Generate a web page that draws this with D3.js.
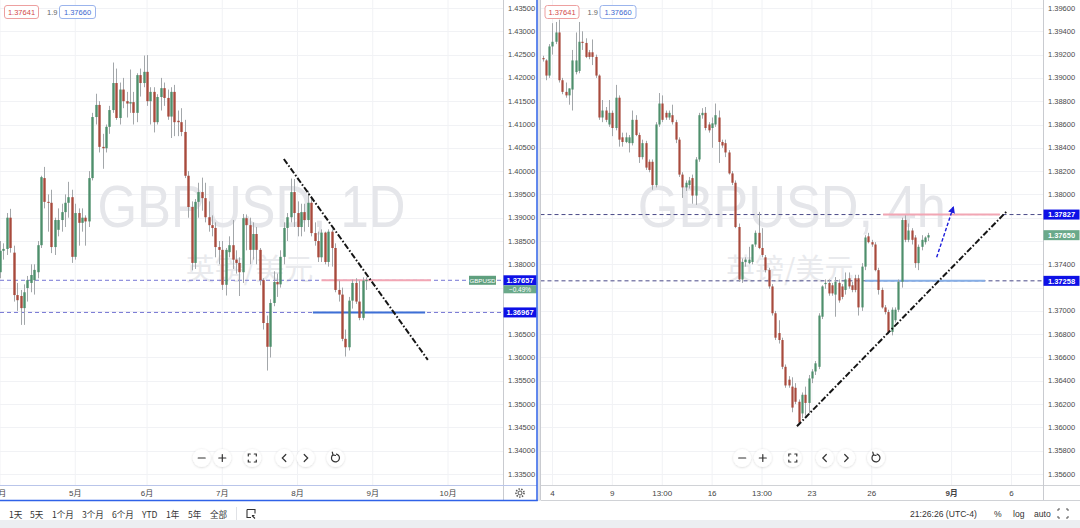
<!DOCTYPE html>
<html><head><meta charset="utf-8">
<script src="https://cdn.jsdelivr.net/npm/d3@7/dist/d3.min.js"></script>
<style>
html,body{margin:0;padding:0;background:#fff;overflow:hidden}
svg{display:block}
text{font-family:"Liberation Sans",Arial,"Noto Sans CJK SC",sans-serif}
</style></head><body>
<svg id="chart" width="1080" height="528"></svg>
<script>
// ---------- DATA ----------
// Daily GBPUSD candles [open, high, low, close], index 0 = 1 Apr
const dailyCandles = [
[1.3783,1.3850,1.3770,1.3829],[1.3829,1.3845,1.3810,1.3833],[1.3833,1.3910,1.3820,1.3900],[1.3900,1.3919,1.3825,1.3835],
[1.3825,1.3840,1.3720,1.3734],[1.3734,1.3760,1.3700,1.3723],[1.3732,1.3745,1.3670,1.3706],[1.3706,1.3757,1.3670,1.3740],
[1.3749,1.3775,1.3720,1.3766],[1.3760,1.3800,1.3740,1.3777],[1.3766,1.3800,1.3735,1.3788],[1.3783,1.3850,1.3770,1.3841],
[1.3841,1.3990,1.3835,1.3987],[1.3985,1.4009,1.3920,1.3934],[1.3934,1.3950,1.3870,1.3932],[1.3932,1.3960,1.3824,1.3837],
[1.3837,1.3900,1.3820,1.3895],[1.3874,1.3920,1.3860,1.3895],[1.3895,1.3930,1.3870,1.3912],[1.3912,1.3950,1.3880,1.3932],
[1.3932,1.3977,1.3900,1.3944],[1.3944,1.3960,1.3803,1.3816],[1.3816,1.3930,1.3810,1.3910],[1.3910,1.3920,1.3840,1.3889],
[1.3889,1.3920,1.3870,1.3900],[1.3900,1.3905,1.3840,1.3892],[1.3892,1.4000,1.3880,1.3985],[1.3985,1.4125,1.3980,1.4116],
[1.4116,1.4166,1.4100,1.4142],[1.4142,1.4150,1.4040,1.4052],[1.4052,1.4080,1.4005,1.4049],[1.4049,1.4100,1.4040,1.4095],
[1.4095,1.4140,1.4080,1.4131],[1.4131,1.4233,1.4125,1.4189],[1.4189,1.4220,1.4110,1.4114],[1.4114,1.4190,1.4100,1.4175],
[1.4175,1.4200,1.4135,1.4150],[1.4150,1.4170,1.4115,1.4145],[1.4145,1.4218,1.4125,1.4148],[1.4148,1.4170,1.4100,1.4125],
[1.4125,1.4210,1.4105,1.4206],[1.4206,1.4220,1.4160,1.4189],[1.4189,1.4248,1.4180,1.4213],[1.4213,1.4249,1.4140,1.4150],
[1.4150,1.4180,1.4100,1.4170],[1.4170,1.4180,1.4083,1.4105],[1.4105,1.4165,1.4100,1.4159],[1.4159,1.4200,1.4130,1.4178],
[1.4178,1.4190,1.4140,1.4157],[1.4157,1.4175,1.4110,1.4117],[1.4117,1.4180,1.4071,1.4170],[1.4170,1.4185,1.4075,1.4105],
[1.4108,1.4130,1.4075,1.4105],[1.4105,1.4135,1.4075,1.4084],[1.4084,1.4110,1.3985,1.3990],[1.3990,1.4000,1.3900,1.3923],
[1.3923,1.3935,1.3787,1.3803],[1.3803,1.3940,1.3790,1.3934],[1.3934,1.3975,1.3900,1.3955],[1.3955,1.3986,1.3915,1.3942],
[1.3942,1.3975,1.3890,1.3901],[1.3901,1.3935,1.3870,1.3884],[1.3884,1.3905,1.3860,1.3878],[1.3878,1.3890,1.3815,1.3837],
[1.3837,1.3850,1.3800,1.3831],[1.3831,1.3850,1.3745,1.3756],[1.3756,1.3835,1.3733,1.3831],[1.3826,1.3860,1.3815,1.3841],
[1.3841,1.3895,1.3790,1.3810],[1.3810,1.3830,1.3780,1.3803],[1.3803,1.3815,1.3732,1.3783],[1.3783,1.3908,1.3760,1.3899],
[1.3899,1.3907,1.3830,1.3884],[1.3884,1.3900,1.3800,1.3831],[1.3831,1.3890,1.3810,1.3865],[1.3865,1.3880,1.3800,1.3831],
[1.3831,1.3835,1.3755,1.3766],[1.3766,1.3770,1.3660,1.3674],[1.3674,1.3690,1.3572,1.3623],[1.3623,1.3725,1.3600,1.3717],
[1.3717,1.3785,1.3710,1.3762],[1.3762,1.3780,1.3730,1.3757],[1.3757,1.3830,1.3750,1.3816],[1.3816,1.3890,1.3800,1.3878],
[1.3878,1.3910,1.3850,1.3901],[1.3901,1.3984,1.3890,1.3955],[1.3955,1.3983,1.3880,1.3910],[1.3910,1.3935,1.3860,1.3880],
[1.3880,1.3930,1.3860,1.3912],[1.3912,1.3930,1.3870,1.3895],[1.3895,1.3958,1.3880,1.3932],[1.3932,1.3945,1.3860,1.3867],
[1.3867,1.3890,1.3840,1.3850],[1.3850,1.3870,1.3805,1.3815],[1.3815,1.3875,1.3805,1.3868],[1.3868,1.3870,1.3800,1.3805],
[1.3805,1.3875,1.3795,1.3870],[1.3870,1.3875,1.3795,1.3835],[1.3835,1.3845,1.3740,1.3745],[1.3745,1.3765,1.3720,1.3735],
[1.3735,1.3750,1.3635,1.3640],[1.3640,1.3660,1.3602,1.3622],[1.3622,1.3730,1.3615,1.3722],[1.3722,1.3767,1.3705,1.3760],
[1.3760,1.3770,1.3715,1.3720],[1.3720,1.3765,1.3680,1.3685],[1.3685,1.3772,1.3680,1.3765],[1.3765,1.3772,1.3745,1.3766]
];
// 4h GBPUSD candles [open, high, low, close]
const h4Candles = [
[1.3917,1.3919,1.3914,1.3916],[1.3915,1.3916,1.3898,1.3902],[1.3902,1.3929,1.3900,1.3927],[1.3927,1.3947,1.3920,1.3931],
[1.3931,1.3948,1.3929,1.3939],[1.3939,1.3950,1.3896,1.3898],[1.3898,1.3900,1.3886,1.3888],[1.3888,1.3896,1.3883,1.3885],
[1.3885,1.3891,1.3877,1.3891],[1.3890,1.3924,1.3872,1.3915],[1.3905,1.3939,1.3903,1.3915],[1.3906,1.3948,1.3904,1.3931],
[1.3931,1.3940,1.3924,1.3930],[1.3930,1.3934,1.3917,1.3918],[1.3922,1.3924,1.3916,1.3918],[1.3922,1.3933,1.3911,1.3918],
[1.3918,1.3920,1.3900,1.3902],[1.3902,1.3903,1.3864,1.3866],[1.3866,1.3881,1.3862,1.3872],[1.3872,1.3875,1.3862,1.3864],
[1.3860,1.3881,1.3858,1.3870],[1.3870,1.3872,1.3850,1.3857],[1.3857,1.3894,1.3855,1.3883],[1.3883,1.3885,1.3841,1.3847],
[1.3849,1.3853,1.3841,1.3845],[1.3845,1.3853,1.3844,1.3849],[1.3844,1.3851,1.3836,1.3849],[1.3844,1.3872,1.3842,1.3864],
[1.3864,1.3868,1.3850,1.3851],[1.3851,1.3853,1.3827,1.3832],[1.3832,1.3847,1.3830,1.3844],[1.3844,1.3846,1.3821,1.3823],
[1.3828,1.3830,1.3819,1.3821],[1.3828,1.3830,1.3804,1.3808],[1.3808,1.3862,1.3806,1.3860],[1.3860,1.3887,1.3858,1.3878],
[1.3878,1.3885,1.3862,1.3864],[1.3870,1.3872,1.3864,1.3866],[1.3866,1.3872,1.3864,1.3870],[1.3868,1.3877,1.3860,1.3862],
[1.3862,1.3864,1.3844,1.3847],[1.3847,1.3849,1.3815,1.3817],[1.3817,1.3819,1.3797,1.3806],[1.3806,1.3812,1.3803,1.3810],
[1.3808,1.3815,1.3805,1.3812],[1.3814,1.3817,1.3792,1.3799],[1.3799,1.3832,1.3791,1.3830],[1.3830,1.3870,1.3828,1.3868],
[1.3868,1.3874,1.3865,1.3870],[1.3870,1.3875,1.3855,1.3857],[1.3860,1.3862,1.3853,1.3855],[1.3857,1.3866,1.3840,1.3861],
[1.3860,1.3878,1.3858,1.3868],[1.3866,1.3872,1.3827,1.3845],[1.3845,1.3847,1.3840,1.3842],[1.3844,1.3847,1.3832,1.3836],
[1.3836,1.3838,1.3817,1.3818],[1.3818,1.3820,1.3808,1.3810],[1.3810,1.3812,1.3771,1.3772],[1.3772,1.3775,1.3725,1.3727],
[1.3727,1.3745,1.3724,1.3742],[1.3742,1.3746,1.3738,1.3744],[1.3741,1.3755,1.3740,1.3744],[1.3742,1.3757,1.3740,1.3757],
[1.3757,1.3769,1.3755,1.3767],[1.3767,1.3785,1.3753,1.3754],[1.3754,1.3771,1.3746,1.3748],[1.3746,1.3748,1.3733,1.3735],
[1.3735,1.3737,1.3719,1.3721],[1.3721,1.3723,1.3696,1.3698],[1.3698,1.3700,1.3675,1.3677],[1.3681,1.3692,1.3672,1.3675],
[1.3675,1.3677,1.3650,1.3652],[1.3652,1.3654,1.3634,1.3636],[1.3641,1.3644,1.3634,1.3636],[1.3635,1.3643,1.3613,1.3617],
[1.3634,1.3638,1.3620,1.3622],[1.3622,1.3624,1.3602,1.3604],[1.3612,1.3630,1.3608,1.3628],[1.3628,1.3635,1.3610,1.3621],
[1.3621,1.3645,1.3612,1.3642],[1.3642,1.3650,1.3638,1.3648],[1.3648,1.3657,1.3645,1.3655],[1.3652,1.3698,1.3650,1.3696],
[1.3695,1.3722,1.3693,1.3721],[1.3723,1.3727,1.3719,1.3724],[1.3724,1.3727,1.3713,1.3715],[1.3722,1.3724,1.3713,1.3715],
[1.3714,1.3729,1.3695,1.3725],[1.3724,1.3727,1.3707,1.3709],[1.3721,1.3723,1.3710,1.3712],[1.3718,1.3733,1.3714,1.3727],
[1.3728,1.3733,1.3719,1.3721],[1.3722,1.3725,1.3716,1.3718],[1.3728,1.3731,1.3716,1.3718],[1.3728,1.3731,1.3696,1.3703],
[1.3703,1.3741,1.3700,1.3738],[1.3738,1.3765,1.3735,1.3763],[1.3764,1.3767,1.3758,1.3759],[1.3759,1.3761,1.3755,1.3757],
[1.3757,1.3759,1.3734,1.3735],[1.3735,1.3737,1.3714,1.3718],[1.3718,1.3720,1.3702,1.3703],[1.3703,1.3705,1.3697,1.3699],
[1.3699,1.3701,1.3680,1.3682],[1.3682,1.3703,1.3679,1.3701],[1.3692,1.3703,1.3690,1.3701],[1.3701,1.3727,1.3699,1.3725],
[1.3725,1.3780,1.3720,1.3778],[1.3778,1.3782,1.3759,1.3761],[1.3761,1.3775,1.3759,1.3769],[1.3769,1.3771,1.3757,1.3761],
[1.3763,1.3765,1.3737,1.3741],[1.3741,1.3757,1.3735,1.3755],[1.3755,1.3765,1.3752,1.3761],[1.3759,1.3764,1.3757,1.3763],
[1.3763,1.3767,1.3760,1.3765]
];
const leftTimeIdx = [0,22,43,65,87,109,131];
const leftTimeLabels = ["4月","5月","6月","7月","8月","9月","10月"];
const rightTimeIdx = [3,21,36,51,66,81,99,123,141];
const rightTimeLabels = ["4","9","13:00","16","13:00","23","26","9月","6"];
const leftPriceTicks = [1.435,1.430,1.425,1.420,1.415,1.410,1.405,1.400,1.395,1.390,1.385,1.380,1.375,1.370,1.365,1.360,1.355,1.350,1.345,1.340,1.335];
const rightPriceTicks = [1.396,1.394,1.392,1.390,1.388,1.386,1.384,1.382,1.380,1.378,1.376,1.374,1.372,1.370,1.368,1.366,1.364,1.362,1.360,1.358,1.356];
const leftLevels = [1.37657, 1.36967];
const rightLevels = [1.37827, 1.37258];
const leftLastPrice = 1.37657, leftChange = "−0.49%";
const rightLastPrice = 1.37650;
// drawings: [index, price]
const leftTrend = [[83,1.4026],[125.1,1.3595]];
const rightTrend = [[76.5,1.3601],[139.4,1.3785]];
const rightArrow = [[118.5,1.3746],[123.5,1.3789]];
const leftPinkSeg = [94,126,1.37657], leftBlueSeg = [91.5,124.3,1.36967];
const rightPinkSeg = [102.4,137.5,1.37827], rightBlueSeg = [97,133,1.37258];
const legendBid = "1.37641", legendSpread = "1.9", legendAsk = "1.37660";
const toolbarItems = ["1天","5天","1个月","3个月","6个月","YTD","1年","5年","全部"];
const toolbarX = [9,30,52,82,112,142,166,188,210];

// ---------- DRAW ----------
const svg = d3.select("#chart");
const GREEN="#4e8f6c", RED="#a84a3d", WICK="#a3a7aa";
svg.append("rect").attr("width",1080).attr("height",528).attr("fill","#fff");
const defs = svg.append("defs");
defs.append("clipPath").attr("id","clipL").append("rect").attr("x",0).attr("y",0).attr("width",503).attr("height",485);
defs.append("clipPath").attr("id","clipR").append("rect").attr("x",540.5).attr("y",0).attr("width",502.5).attr("height",485);
defs.append("marker").attr("id","arr").attr("viewBox","0 0 10 10").attr("refX",8).attr("refY",5)
  .attr("markerWidth",5).attr("markerHeight",5).attr("orient","auto")
  .append("path").attr("d","M0,0L10,5L0,10z").attr("fill","#1d1ddb");
const sh = defs.append("filter").attr("id","shadow").attr("x","-50%").attr("y","-50%").attr("width","200%").attr("height","200%");
sh.append("feDropShadow").attr("dx",0).attr("dy",0.5).attr("stdDeviation",1.2).attr("flood-color","#000").attr("flood-opacity",0.18);

const leftX = d3.scaleLinear().domain([0,131]).range([0,448]);
const leftY = d3.scaleLinear().domain([1.335,1.435]).range([474,8]);
const rightX = d3.scaleLinear().domain([0,141]).range([542.5,1011.5]);
const rightY = d3.scaleLinear().domain([1.356,1.396]).range([474,8]);
const fmt = d3.format(".5f");

function panel(o){
  const g = svg.append("g");
  const plot = g.append("g").attr("clip-path",`url(#${o.clip})`);
  // grid
  plot.selectAll(".vg").data(o.tIdx).join("line").attr("x1",d=>o.x(d)).attr("x2",d=>o.x(d))
    .attr("y1",0).attr("y2",485).attr("stroke","#f1f2f5").attr("stroke-width",1);
  plot.selectAll(".hg").data(o.pTicks).join("line").attr("x1",o.x0).attr("x2",o.x1)
    .attr("y1",d=>Math.round(o.y(d))+0.5).attr("y2",d=>Math.round(o.y(d))+0.5).attr("stroke","#f1f2f5");
  // watermark
  plot.append("text").attr("x",(o.x0+o.x1)/2).attr("y",227).attr("text-anchor","middle")
    .attr("font-size",60).attr("fill","#e5e6ea").attr("textLength",308).attr("lengthAdjust","spacingAndGlyphs")
    .text(o.wm);
  plot.append("text").attr("x",(o.x0+o.x1)/2-2).attr("y",280).attr("text-anchor","middle")
    .attr("font-size",29).attr("fill","#e9eaed").attr("style","font-family:'Noto Sans CJK SC',sans-serif").text("英镑/美元");
  // level dashed lines
  plot.selectAll(".lvl").data(o.levels).join("line").attr("x1",o.x0).attr("x2",o.x1)
    .attr("y1",d=>o.y(d)).attr("y2",d=>o.y(d)).attr("stroke",o.lvlColor).attr("stroke-width",1).attr("stroke-dasharray","4,3");
  // short segments
  plot.append("line").attr("x1",o.x(o.pink[0])).attr("x2",o.x(o.pink[1])).attr("y1",o.y(o.pink[2])).attr("y2",o.y(o.pink[2]))
    .attr("stroke","#f2a6b4").attr("stroke-width",2);
  plot.append("line").attr("x1",o.x(o.blue[0])).attr("x2",o.x(o.blue[1])).attr("y1",o.y(o.blue[2])).attr("y2",o.y(o.blue[2]))
    .attr("stroke",o.blueColor).attr("stroke-width",2);
  // candles
  const c = plot.append("g");
  c.selectAll("line").data(o.data).join("line")
    .attr("x1",(d,i)=>Math.round(o.x(i))+0.5).attr("x2",(d,i)=>Math.round(o.x(i))+0.5)
    .attr("y1",d=>o.y(d[1])).attr("y2",d=>o.y(d[2])).attr("stroke",WICK).attr("stroke-width",1);
  c.selectAll("rect").data(o.data).join("rect")
    .attr("x",(d,i)=>Math.round(o.x(i))+0.5-o.bw/2).attr("width",o.bw)
    .attr("y",d=>o.y(Math.max(d[0],d[3])))
    .attr("height",d=>Math.max(1,Math.abs(o.y(d[0])-o.y(d[3]))))
    .attr("fill",d=>d[3]>=d[0]?GREEN:RED);
  // trend line
  plot.append("line").attr("x1",o.x(o.trend[0][0])).attr("y1",o.y(o.trend[0][1]))
    .attr("x2",o.x(o.trend[1][0])).attr("y2",o.y(o.trend[1][1]))
    .attr("stroke","#151515").attr("stroke-width",2).attr("stroke-dasharray","6,2,1.6,2");
  if(o.arrow){
    plot.append("line").attr("x1",o.x(o.arrow[0][0])).attr("y1",o.y(o.arrow[0][1]))
      .attr("x2",o.x(o.arrow[1][0])).attr("y2",o.y(o.arrow[1][1]))
      .attr("stroke","#1d1ddb").attr("stroke-width",1.4).attr("stroke-dasharray","3.5,2").attr("marker-end","url(#arr)");
  }
  // price axis labels (those hidden behind a price tag are not drawn)
  const tagYs = o.tags.map(t=>o.y(t.p)).concat(o.extraTagYs||[]);
  const visibleTicks = o.pTicks.filter(p=>tagYs.every(ty=>Math.abs(o.y(p)-ty)>7.5));
  g.selectAll(".pl").data(visibleTicks).join("text").attr("x",o.x1+5).attr("y",d=>o.y(d))
    .attr("dominant-baseline","central").attr("font-size",7.5).attr("fill","#4a4a4a").text(d=>fmt(d));
  // time axis
  g.selectAll(".tl").data(o.tIdx).join("text").attr("x",d=>o.x(d)).attr("y",493.5)
    .attr("text-anchor","middle").attr("dominant-baseline","central").attr("font-size",8)
    .attr("font-weight",(d,i)=>o.tLabels[i]==="9月"&&o.boldMonth?700:400)
    .attr("fill","#444").text((d,i)=>o.tLabels[i]);
  // separators
  g.append("line").attr("x1",o.x1+0.5).attr("x2",o.x1+0.5).attr("y1",0).attr("y2",500).attr("stroke","#c9cbd0");
  g.append("line").attr("x1",o.x0).attr("x2",o.axR).attr("y1",485.5).attr("y2",485.5).attr("stroke",o.axisLine);
  // legend boxes
  const lx=o.x0;
  g.append("rect").attr("x",lx+4.5).attr("y",5.5).attr("width",34).attr("height",13).attr("rx",2.5)
    .attr("fill","#fff").attr("stroke","#eda0a0");
  g.append("text").attr("x",lx+21.5).attr("y",12.3).attr("text-anchor","middle").attr("dominant-baseline","central")
    .attr("font-size",7.5).attr("fill","#d34a4a").text(legendBid);
  g.append("text").attr("x",lx+47).attr("y",12.3).attr("dominant-baseline","central")
    .attr("font-size",7.5).attr("fill","#666").text(legendSpread);
  g.append("rect").attr("x",lx+59.5).attr("y",5.5).attr("width",36).attr("height",13).attr("rx",2.5)
    .attr("fill","#fff").attr("stroke","#9bb4ec");
  g.append("text").attr("x",lx+77.5).attr("y",12.3).attr("text-anchor","middle").attr("dominant-baseline","central")
    .attr("font-size",7.5).attr("fill","#3d68cf").text(legendAsk);
  // nav buttons
  const nb = [[201.7,"minus"],[222.3,"plus"],[252.3,"fit"],[284.3,"lt"],[305.7,"gt"],[335.5,"reset"]];
  nb.forEach(([bx,k])=>{
    const cx=lx+bx, cy=458;
    g.append("circle").attr("cx",cx).attr("cy",cy).attr("r",9).attr("fill","#fff").attr("filter","url(#shadow)");
    let d="";
    if(k==="minus") d=`M${cx-3.5},${cy}H${cx+3.5}`;
    if(k==="plus") d=`M${cx-3.5},${cy}H${cx+3.5}M${cx},${cy-3.5}V${cy+3.5}`;
    if(k==="fit") d=`M${cx-4},${cy-2}V${cy-4}H${cx-2}M${cx+2},${cy-4}H${cx+4}V${cy-2}M${cx+4},${cy+2}V${cy+4}H${cx+2}M${cx-2},${cy+4}H${cx-4}V${cy+2}`;
    if(k==="lt") d=`M${cx+1.5},${cy-3.5}L${cx-2},${cy}L${cx+1.5},${cy+3.5}`;
    if(k==="gt") d=`M${cx-1.5},${cy-3.5}L${cx+2},${cy}L${cx-1.5},${cy+3.5}`;
    if(k==="reset") d=`M${cx-2.5},${cy-3.2}A4,4 0 1 0 ${cx+1},${cy-3.9}M${cx-2.5},${cy-3.2}L${cx-3.2},${cy-5.8}M${cx-2.5},${cy-3.2}L${cx},${cy-2.5}`;
    g.append("path").attr("d",d).attr("fill","none").attr("stroke","#333").attr("stroke-width",1.2).attr("stroke-linecap","round");
  });
  // price-axis tags
  o.tags.forEach(t=>{
    g.append("rect").attr("x",o.x1+0.5).attr("y",o.y(t.p)-5).attr("width",o.axR-o.x1-1).attr("height",10).attr("fill",t.fill);
    g.append("text").attr("x",(o.x1+o.axR)/2).attr("y",o.y(t.p)+0.3).attr("text-anchor","middle").attr("dominant-baseline","central")
      .attr("font-size",7.5).attr("font-weight",700).attr("fill","#fff").text(fmt(t.p));
  });
  return g;
}

const gL = panel({clip:"clipL",x:leftX,y:leftY,x0:0,x1:503,axR:537,data:dailyCandles,bw:2.4,tIdx:leftTimeIdx,tLabels:leftTimeLabels,
  pTicks:leftPriceTicks,wm:"GBPUSD, 1D",levels:leftLevels,lvlColor:"#7676d4",pink:leftPinkSeg,blue:leftBlueSeg,blueColor:"#3d6fd6",
  trend:leftTrend,arrow:null,axisLine:"#b9c5ea",boldMonth:false,extraTagYs:[leftY(leftLastPrice)+9],
  tags:[{p:leftLastPrice,fill:"#0d10e6"},{p:leftLevels[1],fill:"#0d10e6"}]});
// left extra tags
gL.append("rect").attr("x",469).attr("y",leftY(leftLastPrice)-4.5).attr("width",27).attr("height",9).attr("fill","#5f9f7e");
gL.append("text").attr("x",482.5).attr("y",leftY(leftLastPrice)).attr("text-anchor","middle").attr("dominant-baseline","central")
  .attr("font-size",6.2).attr("fill","#fff").text("GBPUSD");
gL.append("rect").attr("x",503.5).attr("y",leftY(leftLastPrice)+5).attr("width",33).attr("height",8).attr("fill","#6aa98a");
gL.append("text").attr("x",520).attr("y",leftY(leftLastPrice)+9.2).attr("text-anchor","middle").attr("dominant-baseline","central")
  .attr("font-size",6.5).attr("fill","#fff").text(leftChange);
// gear
gL.append("circle").attr("cx",520).attr("cy",493).attr("r",2).attr("fill","none").attr("stroke","#555").attr("stroke-width",1);
gL.append("circle").attr("cx",520).attr("cy",493).attr("r",4).attr("fill","none").attr("stroke","#555").attr("stroke-width",1.6).attr("stroke-dasharray","1.4,1.4");

const gR = panel({clip:"clipR",x:rightX,y:rightY,x0:540.5,x1:1043,axR:1080,data:h4Candles,bw:2.2,tIdx:rightTimeIdx,tLabels:rightTimeLabels,
  pTicks:rightPriceTicks,wm:"GBPUSD, 4h",levels:rightLevels,lvlColor:"#4a4a88",pink:rightPinkSeg,blue:rightBlueSeg,blueColor:"#86aee6",
  trend:rightTrend,arrow:rightArrow,axisLine:"#d0d2d6",boldMonth:true,
  tags:[{p:rightLevels[0],fill:"#0d10e6"},{p:rightLastPrice,fill:"#6aa98a"},{p:rightLevels[1],fill:"#0d10e6"}]});

// panel borders
svg.append("rect").attr("x",537.5).attr("y",0).attr("width",2.5).attr("height",501).attr("fill","#e3e5ea");
svg.append("line").attr("x1",540.5).attr("x2",540.5).attr("y1",0).attr("y2",500).attr("stroke","#c9cbd0");
svg.append("line").attr("x1",540.5).attr("x2",1080).attr("y1",500.5).attr("y2",500.5).attr("stroke","#d0d2d6");
svg.append("line").attr("x1",1043.5).attr("x2",1043.5).attr("y1",485).attr("y2",500).attr("stroke","#c9cbd0");
svg.append("line").attr("x1",537).attr("x2",537).attr("y1",0).attr("y2",501).attr("stroke","#2f62e8").attr("stroke-width",1.5);
svg.append("line").attr("x1",0).attr("x2",537.7).attr("y1",500.5).attr("y2",500.5).attr("stroke","#2f62e8").attr("stroke-width",1.5);

// bottom toolbar
svg.append("rect").attr("x",0).attr("y",520).attr("width",1080).attr("height",8).attr("fill","#eceef1");
svg.selectAll(".tb").data(toolbarItems).join("text").attr("x",(d,i)=>toolbarX[i]).attr("y",513.5)
  .attr("dominant-baseline","central").attr("font-size",8.6).attr("fill","#333")
  .attr("style","font-family:'Noto Sans CJK SC','Liberation Sans',sans-serif").text(d=>d);
svg.append("line").attr("x1",236.5).attr("x2",236.5).attr("y1",507).attr("y2",520).attr("stroke","#e0e2e6");
svg.append("path").attr("d","M247,509.5H255V513.5M247,509.5V517.5H251M252,515.5L255,518.5M252,515.5H254.5").attr("fill","none").attr("stroke","#333").attr("stroke-width",1.1);
svg.append("text").attr("x",910).attr("y",513.5).attr("dominant-baseline","central").attr("font-size",8.6).attr("fill","#333").text("21:26:26 (UTC-4)");
svg.append("text").attr("x",994).attr("y",513.5).attr("dominant-baseline","central").attr("font-size",8.6).attr("fill","#333").text("%");
svg.append("text").attr("x",1013).attr("y",513.5).attr("dominant-baseline","central").attr("font-size",8.6).attr("fill","#333").text("log");
svg.append("text").attr("x",1034).attr("y",513.5).attr("dominant-baseline","central").attr("font-size",8.6).attr("fill","#333").text("auto");
svg.append("path").attr("d","M1058,511V509H1060M1066,509H1068V511M1068,516V518H1066M1060,518H1058V516").attr("fill","none").attr("stroke","#555").attr("stroke-width",1);
</script>
</body></html>
